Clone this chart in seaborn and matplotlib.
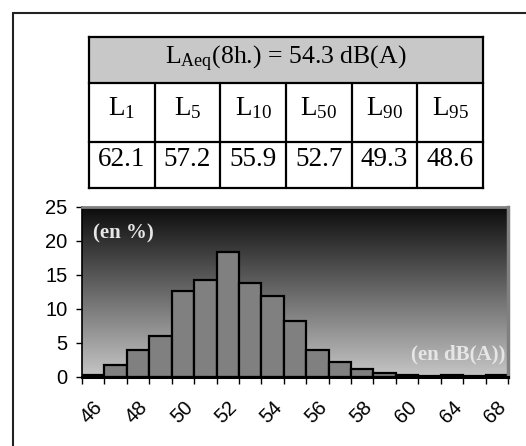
import numpy as np
import pandas as pd
import matplotlib
matplotlib.use('Agg')
import matplotlib.pyplot as plt
import seaborn as sns
from matplotlib.patches import Rectangle
from matplotlib.lines import Line2D
from matplotlib.colors import LinearSegmentedColormap

# --- data ---
levels = ['46', '47', '48', '49', '50', '51', '52', '53', '54', '55',
          '56', '57', '58', '59', '60', '62', '64', '66', '68']
share = [0.3, 1.7, 3.9, 6.0, 12.6, 14.2, 18.4, 13.8, 11.8, 8.2,
         3.9, 2.1, 1.1, 0.6, 0.3, 0.1, 0.2, 0.1, 0.2]
stat_names = ['1', '5', '10', '50', '90', '95']
stat_values = [62.1, 57.2, 55.9, 52.7, 49.3, 48.6]
laeq = 54.3

sns.set_theme(style='white')
plt.rcParams['font.family'] = ['Liberation Sans', 'DejaVu Sans']
plt.rcParams['mathtext.fontset'] = 'custom'
plt.rcParams['mathtext.rm'] = 'Liberation Serif'
plt.rcParams['mathtext.it'] = 'Liberation Serif:italic'
plt.rcParams['mathtext.bf'] = 'Liberation Serif:bold'

W, H = 526, 446
fig = plt.figure(figsize=(W / 100, H / 100), dpi=100)


def box(x0, y0, x1, y1):
    # pixel box (from top-left) -> figure rect
    return [x0 / W, 1 - y1 / H, (x1 - x0) / W, (y1 - y0) / H]


# outer frame (only left and top edges are visible)
fig.add_artist(Line2D([13 / W, 13 / W], [0, 1 - 13 / H], color='#222222', lw=1.5))
fig.add_artist(Line2D([13 / W, 1], [1 - 13 / H, 1 - 13 / H], color='#222222', lw=1.5))

# --- table ---
tab = fig.add_axes(box(89, 37, 483, 188))
tab.set_xlim(0, 394)
tab.set_ylim(151, 0)
tab.axis('off')
tab.add_patch(Rectangle((0, 0), 394, 46, facecolor='#c8c8c8', edgecolor='none'))
cols = np.linspace(0, 394, len(stat_names) + 1)
for y in [0, 46, 105, 151]:
    tab.plot([0, 394], [y, y], color='black', lw=1.6, clip_on=False, solid_capstyle='projecting')
for x in [0, 394]:
    tab.plot([x, x], [0, 151], color='black', lw=1.6, clip_on=False, solid_capstyle='projecting')
for x in cols[1:-1]:
    tab.plot([x, x], [46, 151], color='black', lw=1.6, clip_on=False)
tab.text(197, 22, r'L$_{\mathrm{Aeq}}$(8h.) = ' + f'{laeq:.1f} dB(A)',
         ha='center', va='center', family='Liberation Serif', size=18.5, color='black')
for i, (n, v) in enumerate(zip(stat_names, stat_values)):
    cx = (cols[i] + cols[i + 1]) / 2
    tab.text(cx, 71, f'L$_{{{n}}}$', ha='center', va='center',
             family='Liberation Serif', size=19.5, color='black')
    tab.text(cx, 122, f'{v:.1f}', ha='center', va='center',
             family='Liberation Serif', size=19.5, color='black')

# --- histogram ---
ax = fig.add_axes(box(82, 206.7, 508, 376.7))
df = pd.DataFrame({'level': levels, 'share': share})
grad = LinearSegmentedColormap.from_list('bg', ['#0c0c0c', '#c6c6c6'])
ax.imshow(np.linspace(0, 1, 256).reshape(-1, 1), extent=[-0.5, len(levels) - 0.5, 0, 25],
          aspect='auto', cmap=grad, zorder=0)
sns.barplot(data=df, x='level', y='share', ax=ax, color='#808080', saturation=1,
            width=1, edgecolor='black', linewidth=1.6, zorder=2)
ax.set_xlim(-0.5, len(levels) - 0.5)
ax.set_ylim(0, 25)
ax.set_xlabel('')
ax.set_ylabel('')

ax.set_yticks(range(0, 26, 5))
ax.tick_params(axis='y', length=4.5, width=1, direction='out', labelsize=14.5, pad=6,
               left=True, color='black', labelcolor='black')
ax.set_xticks(range(0, len(levels), 2))
ax.set_xticklabels(levels[::2], rotation=45, ha='right', va='top', rotation_mode='anchor')
ax.set_xticks(np.arange(-0.5, len(levels), 1), minor=True)
ax.tick_params(axis='x', which='major', length=0, pad=15, labelsize=14.5, labelcolor='black')
ax.tick_params(axis='x', which='minor', length=5, width=1, direction='out',
               bottom=True, color='black')

ax.spines['left'].set_color('black')
ax.spines['left'].set_linewidth(1.2)
ax.spines['bottom'].set_color('black')
ax.spines['bottom'].set_linewidth(2.2)
ax.spines['top'].set_color('#808080')
ax.spines['top'].set_linewidth(2)
ax.spines['right'].set_color('#808080')
ax.spines['right'].set_linewidth(2.5)
for s in ax.spines.values():
    s.set_visible(True)
    s.set_zorder(3)

ax.text(0.026, 0.84, '(en %)', transform=ax.transAxes, ha='left', va='center',
        color='#e6e6e6', fontweight='bold', family='Liberation Serif', size=15, zorder=4)
ax.text(0.993, 0.128, '(en dB(A))', transform=ax.transAxes, ha='right', va='center',
        color='#e6e6e6', fontweight='bold', family='Liberation Serif', size=15, zorder=4)

fig.savefig('out.png', dpi=100)
